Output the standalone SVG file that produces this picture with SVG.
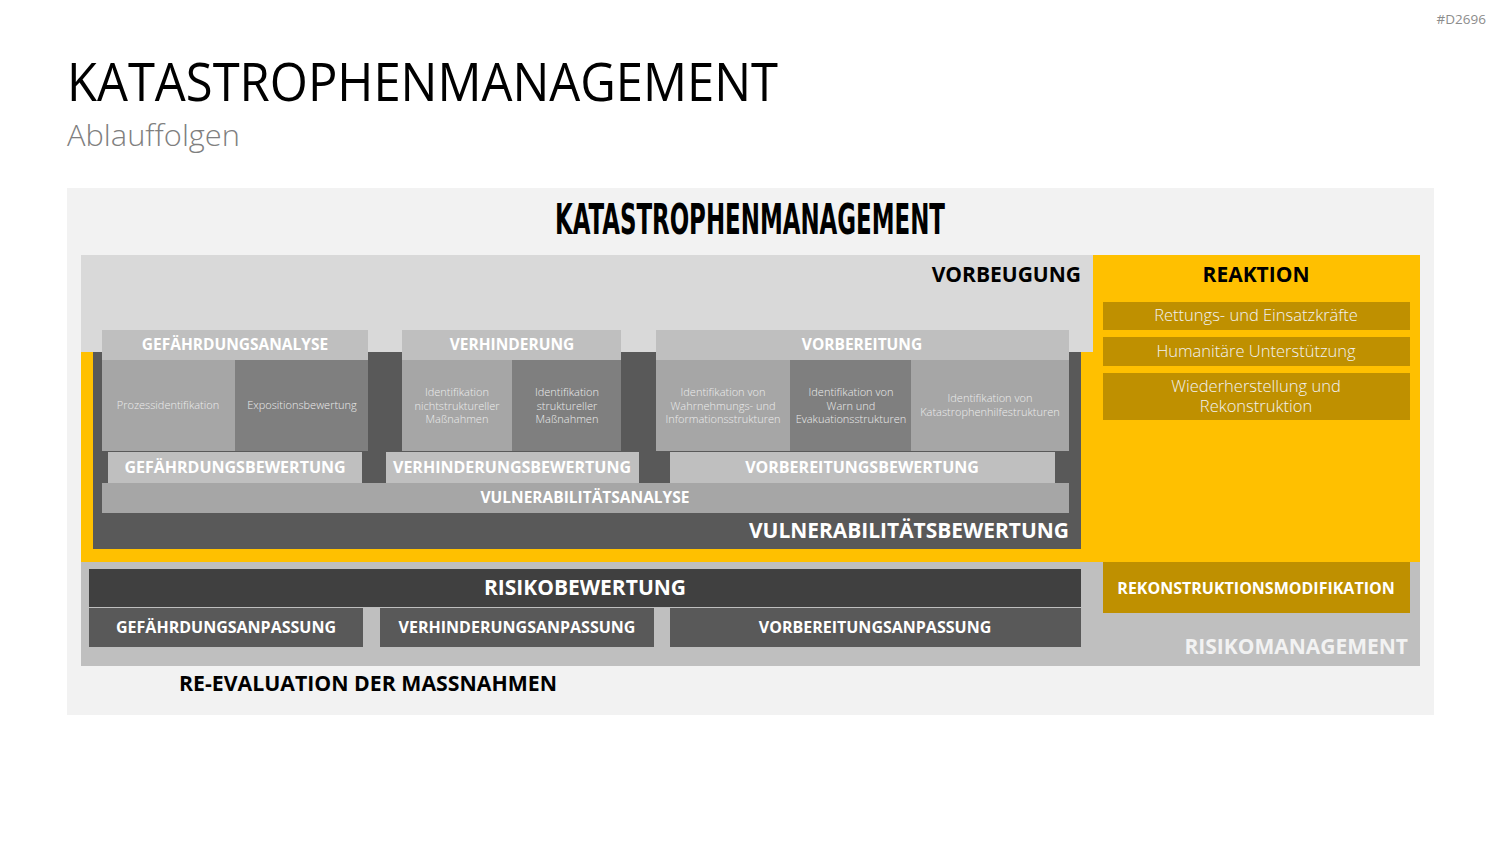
<svg xmlns="http://www.w3.org/2000/svg" width="1500" height="844" viewBox="0 0 1500 844">
<style>
text{font-family:"Open Sans","Liberation Sans",sans-serif}
.b{font-weight:700;text-anchor:middle}
.w{fill:#ffffff}
.hdr{font-size:15.5px;font-weight:700;fill:#ffffff;text-anchor:middle}
.cell{font-size:11px;font-weight:300;fill:#ececec;text-anchor:middle}
.rk{font-size:16.5px;font-weight:300;fill:#f2f2f2;text-anchor:middle}
.lg{fill:#bfbfbf}
.mg{fill:#a6a6a6}
.dg{fill:#7f7f7f}
.gold{fill:#bf9000}
</style>
<rect width="1500" height="844" fill="#ffffff"/>
<text x="1486" y="24" font-size="13.5" fill="#8c8c8c" text-anchor="end">#D2696</text>
<text x="67" y="101" font-size="53" fill="#000" textLength="711" lengthAdjust="spacingAndGlyphs">KATASTROPHENMANAGEMENT</text>
<text x="67" y="146" font-size="30" fill="#7f7f7f" font-weight="300" textLength="173" lengthAdjust="spacingAndGlyphs">Ablauffolgen</text>

<g id="panel">
<rect x="67" y="188" width="1367" height="527" fill="#f2f2f2"/>
<text x="750" y="234" font-size="42" font-weight="700" text-anchor="middle" fill="#000" textLength="390" lengthAdjust="spacingAndGlyphs" style="font-family:'DejaVu Sans Condensed','Liberation Sans',sans-serif">KATASTROPHENMANAGEMENT</text>
</g>

<g id="vorbeugung">
<rect x="81" y="255" width="1012" height="97" fill="#d9d9d9"/>
<text x="1081" y="282" font-size="21" class="b" style="text-anchor:end" fill="#000">VORBEUGUNG</text>
</g>

<g id="reaktion">
<rect x="1093" y="255" width="327" height="307" fill="#ffc000"/>
<rect x="81" y="352" width="1012" height="210" fill="#ffc000"/>
<text x="1256" y="282" font-size="21" class="b" fill="#000">REAKTION</text>
</g>

<g id="vulnerabilitaetsbewertung">
<rect x="93" y="352" width="988" height="197" fill="#595959"/>
<text x="1069" y="538" font-size="22" font-weight="700" text-anchor="end" class="w" textLength="320" lengthAdjust="spacingAndGlyphs">VULNERABILITÄTSBEWERTUNG</text>
</g>

<g id="gefaehrdungsanalyse">
<rect x="102" y="330" width="266" height="30" class="lg"/>
<text x="235" y="350" class="hdr">GEFÄHRDUNGSANALYSE</text>
<rect x="102" y="360" width="133" height="91" class="mg"/>
<rect x="235" y="360" width="133" height="91" class="dg"/>
<text x="168" y="409" class="cell">Prozessidentifikation</text>
<text x="302" y="409" class="cell">Expositionsbewertung</text>
</g>

<g id="verhinderung">
<rect x="402" y="330" width="219" height="30" class="lg"/>
<text x="512" y="350" class="hdr">VERHINDERUNG</text>
<rect x="402" y="360" width="110" height="91" class="mg"/>
<rect x="512" y="360" width="109" height="91" class="dg"/>
<text x="457" y="396" class="cell">Identifikation</text>
<text x="457" y="409.5" class="cell">nichtstruktureller</text>
<text x="457" y="423" class="cell">Maßnahmen</text>
<text x="567" y="396" class="cell">Identifikation</text>
<text x="567" y="409.5" class="cell">struktureller</text>
<text x="567" y="423" class="cell">Maßnahmen</text>
</g>

<g id="vorbereitung">
<rect x="656" y="330" width="413" height="30" class="lg"/>
<text x="862" y="350" class="hdr">VORBEREITUNG</text>
<rect x="656" y="360" width="134" height="91" class="mg"/>
<rect x="790" y="360" width="121" height="91" class="dg"/>
<rect x="911" y="360" width="158" height="91" class="mg"/>
<text x="723" y="396" class="cell">Identifikation von</text>
<text x="723" y="409.5" class="cell">Wahrnehmungs- und</text>
<text x="723" y="423" class="cell">Informationsstrukturen</text>
<text x="851" y="396" class="cell">Identifikation von</text>
<text x="851" y="409.5" class="cell">Warn und</text>
<text x="851" y="423" class="cell">Evakuationsstrukturen</text>
<text x="990" y="402" class="cell">Identifikation von</text>
<text x="990" y="415.5" class="cell">Katastrophenhilfestrukturen</text>
</g>

<g id="bewertungen">
<rect x="108" y="452" width="254" height="31" class="lg"/>
<text x="235" y="473" font-size="16" class="b w">GEFÄHRDUNGSBEWERTUNG</text>
<rect x="386" y="452" width="253" height="31" class="lg"/>
<text x="512" y="473" font-size="16" class="b w">VERHINDERUNGSBEWERTUNG</text>
<rect x="670" y="452" width="385" height="31" class="lg"/>
<text x="862" y="473" font-size="16" class="b w">VORBEREITUNGSBEWERTUNG</text>
</g>

<g id="vulnerabilitaetsanalyse">
<rect x="102" y="483" width="967" height="30" class="mg"/>
<text x="585" y="503" font-size="15.5" class="b w">VULNERABILITÄTSANALYSE</text>
</g>

<g id="reaktion-items">
<rect x="1103" y="302" width="307" height="28" class="gold"/>
<text x="1256" y="321" class="rk">Rettungs- und Einsatzkräfte</text>
<rect x="1103" y="337" width="307" height="29" class="gold"/>
<text x="1256" y="357" class="rk">Humanitäre Unterstützung</text>
<rect x="1103" y="373" width="307" height="47" class="gold"/>
<text x="1256" y="392" class="rk">Wiederherstellung und</text>
<text x="1256" y="412" class="rk">Rekonstruktion</text>
</g>

<g id="risikomanagement">
<rect x="81" y="562" width="1339" height="104" class="lg"/>
<text x="1408" y="654" font-size="21" font-weight="700" text-anchor="end" fill="#f2f2f2">RISIKOMANAGEMENT</text>
</g>

<g id="risikobewertung">
<rect x="89" y="569" width="992" height="38" fill="#404040"/>
<text x="585" y="595" font-size="21" class="b w">RISIKOBEWERTUNG</text>
</g>

<g id="anpassungen">
<rect x="89" y="608" width="274" height="39" fill="#595959"/>
<text x="226" y="633" font-size="16" class="b w">GEFÄHRDUNGSANPASSUNG</text>
<rect x="380" y="608" width="274" height="39" fill="#595959"/>
<text x="517" y="633" font-size="16" class="b w">VERHINDERUNGSANPASSUNG</text>
<rect x="670" y="608" width="411" height="39" fill="#595959"/>
<text x="875" y="633" font-size="16" class="b w">VORBEREITUNGSANPASSUNG</text>
</g>

<g id="rekonstruktionsmodifikation">
<rect x="1103" y="562" width="307" height="51" class="gold"/>
<text x="1256" y="594" font-size="16" class="b w">REKONSTRUKTIONSMODIFIKATION</text>
</g>

<g id="reevaluation">
<text x="179" y="691" font-size="21" font-weight="700" fill="#000" textLength="378" lengthAdjust="spacingAndGlyphs">RE-EVALUATION DER MASSNAHMEN</text>
</g>
</svg>
